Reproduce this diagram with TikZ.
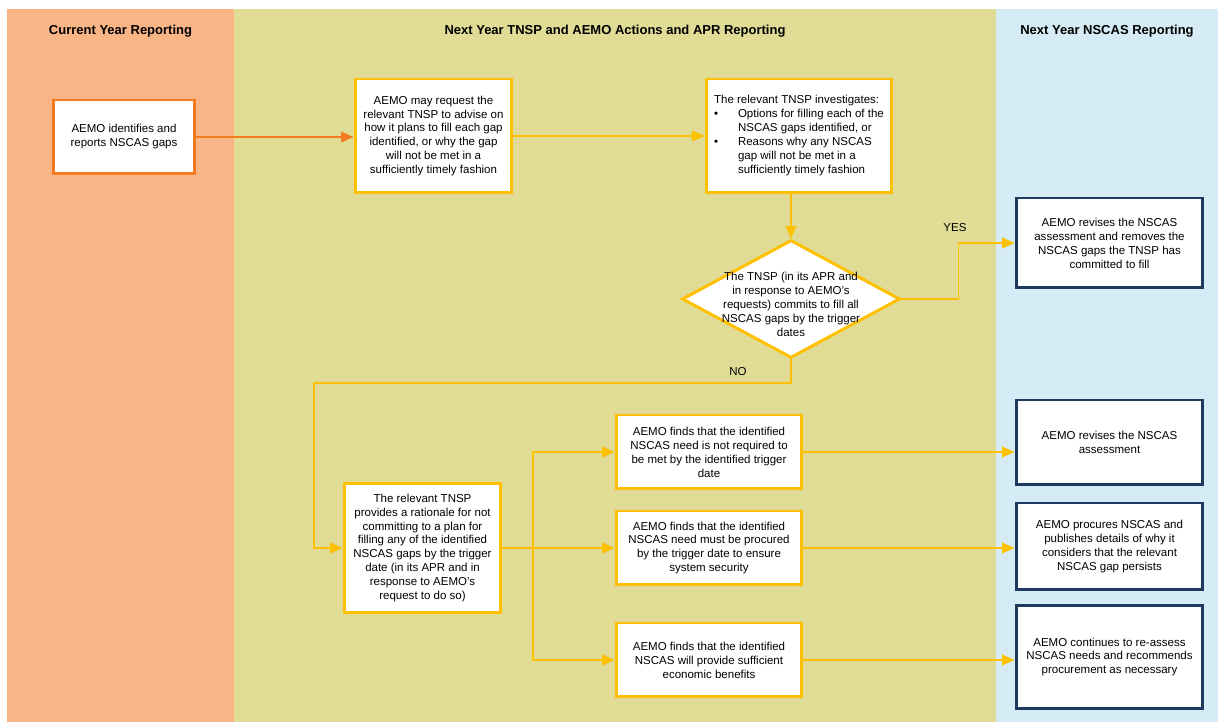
\documentclass[tikz,border=0pt]{standalone}
\usepackage{fontspec}
\setmainfont{Liberation Sans}
\usepackage{xcolor}
\usetikzlibrary{arrows.meta,shapes.geometric}

\definecolor{laneorange}{HTML}{F9B586}
\definecolor{laneolive}{HTML}{E0DC96}
\definecolor{laneblue}{HTML}{D5ECF6}
\definecolor{edgeorange}{HTML}{F47A20}
\definecolor{edgeyellow}{HTML}{FFC000}
\definecolor{edgenavy}{HTML}{1F3A5F}

\newcommand{\bodysize}{\fontsize{6.55}{7.95}\selectfont}
\newcommand{\headsize}{\fontsize{7.4}{9}\selectfont\bfseries}

\tikzset{
  procbox/.style={draw=edgeyellow, fill=white, line width=1.7pt, font=\bodysize, align=center, inner sep=2pt},
  startbox/.style={procbox, draw=edgeorange},
  navybox/.style={procbox, draw=edgenavy},
  decision/.style={diamond, draw=edgeyellow, fill=white, line width=1.7pt, inner sep=0pt, minimum width=4.36cm, minimum height=2.36cm},
  flow/.style={draw=edgeyellow, line width=1pt, -{Triangle[length=7pt,width=6pt]}},
  lanehead/.style={font=\headsize},
  tag/.style={font=\bodysize, align=center}
}

\begin{document}
\begin{tikzpicture}[x=0.02cm, y=-0.02cm]
\useasboundingbox (0,0) rectangle (1218,722);

% lanes
\fill[laneorange] (7,9) rectangle (234,722);
\fill[laneolive] (234,9) rectangle (996,722);
\fill[laneblue] (996,9) rectangle (1218,722);

% lane headers
\node[lanehead] (headcur) at (120.5,31) {Current Year Reporting};
\node[lanehead] (headtnsp) at (615,31) {Next Year TNSP and AEMO Actions and APR Reporting};
\node[lanehead] (headnscas) at (1107,31) {Next Year NSCAS Reporting};

% top row
\node[startbox, minimum width=2.84cm, minimum height=1.48cm] (gaps) at (124,137)
  {AEMO identifies and\\reports NSCAS gaps};
\node[procbox, minimum width=3.14cm, minimum height=2.28cm] (request) at (433.5,136)
  {AEMO may request the\\relevant TNSP to advise on\\how it plans to fill each gap\\identified, or why the gap\\will not be met in a\\sufficiently timely fashion};
\node[procbox, minimum width=3.72cm, minimum height=2.28cm] (investigate) at (799,136)
  {\begin{tabular}{@{}p{13.6pt}@{}l@{}}
   \multicolumn{2}{@{}l@{}}{The relevant TNSP investigates:}\\
   \textbullet & Options for filling each of the\\
               & NSCAS gaps identified, or\\
   \textbullet & Reasons why any NSCAS\\
               & gap will not be met in a\\
               & sufficiently timely fashion
   \end{tabular}};

% decision
\node[decision] (commit) at (791,299) {};
\node[tag] (committext) at (791,304)
  {The TNSP (in its APR and\\in response to AEMO’s\\requests) commits to fill all\\NSCAS gaps by the trigger\\dates};
\node[navybox, minimum width=3.74cm, minimum height=1.8cm] (revise) at (1109.5,243)
  {AEMO revises the NSCAS\\assessment and removes the\\NSCAS gaps the TNSP has\\committed to fill};

% rationale branch
\node[procbox, minimum width=3.14cm, minimum height=2.58cm] (rationale) at (422.5,548)
  {The relevant TNSP\\provides a rationale for not\\committing to a plan for\\filling any of the identified\\NSCAS gaps by the trigger\\date (in its APR and in\\response to AEMO’s\\request to do so)};
\node[procbox, minimum width=3.72cm, minimum height=1.48cm] (notreq) at (709,452)
  {AEMO finds that the identified\\NSCAS need is not required to\\be met by the identified trigger\\date};
\node[procbox, minimum width=3.72cm, minimum height=1.48cm] (procure) at (709,548)
  {AEMO finds that the identified\\NSCAS need must be procured\\by the trigger date to ensure\\system security};
\node[procbox, minimum width=3.72cm, minimum height=1.48cm] (benefit) at (709,660)
  {AEMO finds that the identified\\NSCAS will provide sufficient\\economic benefits};

% outcomes
\node[navybox, minimum width=3.74cm, minimum height=1.7cm] (revisenscas) at (1109.5,442.5)
  {AEMO revises the NSCAS\\assessment};
\node[navybox, minimum width=3.74cm, minimum height=1.74cm] (procurenscas) at (1109.5,546.5)
  {AEMO procures NSCAS and\\publishes details of why it\\considers that the relevant\\NSCAS gap persists};
\node[navybox, minimum width=3.74cm, minimum height=2.08cm] (reassess) at (1109.5,657)
  {AEMO continues to re-assess\\NSCAS needs and recommends\\procurement as necessary};

% labels
\node[tag] (yeslbl) at (955,228) {YES};
\node[tag] (nolbl) at (738,372) {NO};

% connectors
\draw[flow, draw=edgeorange] (gaps.east) -- (gaps.east -| request.west);
\draw[flow] (request.east) -- (investigate.west);
\draw[flow] (commit.north |- investigate.south) -- (commit.north);
\draw[flow] (commit.east) -- ++(57,0) |- (revise.west);
\coordinate (nobend) at (314,383);
\draw[flow] (commit.south) |- (nobend) |- (rationale.west);
\coordinate (split) at (533,548);
\draw[flow] (rationale.east) -- (procure.west);
\draw[flow] (split) |- (notreq.west);
\draw[flow] (split) |- (benefit.west);
\draw[flow] (notreq.east) -- (notreq.east -| revisenscas.west);
\draw[flow] (procure.east) -- (procure.east -| procurenscas.west);
\draw[flow] (benefit.east) -- (benefit.east -| reassess.west);
\end{tikzpicture}
\end{document}
